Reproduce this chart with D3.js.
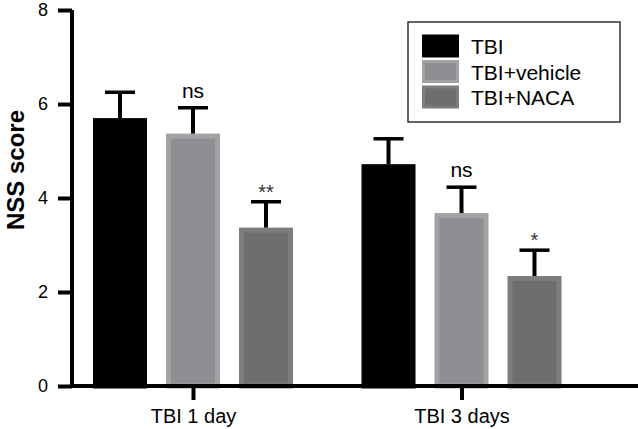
<!DOCTYPE html>
<html><head><meta charset="utf-8">
<script src="https://cdn.jsdelivr.net/npm/d3@7"></script>
<style>body{margin:0;background:#fff}svg{display:block}text{font-family:"Liberation Sans",Arial,sans-serif}</style>
</head><body><svg id="c" width="638" height="429"></svg>
<script>
const categories = ["TBI 1 day", "TBI 3 days"];
const series = ["TBI", "TBI+vehicle", "TBI+NACA"];
const means = {
  "TBI": [5.70, 4.72],
  "TBI+vehicle": [5.37, 3.68],
  "TBI+NACA": [3.37, 2.34]
};
const sems = {
  "TBI": [0.55, 0.54],
  "TBI+vehicle": [0.55, 0.55],
  "TBI+NACA": [0.55, 0.55]
};
const marks = {
  "TBI": ["", ""],
  "TBI+vehicle": ["ns", "ns"],
  "TBI+NACA": ["**", "*"]
};
const yTicks = [0, 2, 4, 6, 8];

const fills = {"TBI": "#000000", "TBI+vehicle": "#8f8f93", "TBI+NACA": "#6e6e6e"};
const strokes = {"TBI": "#000000", "TBI+vehicle": "#a2a2a5", "TBI+NACA": "#7d7d7d"};

const svg = d3.select("#c");
const y = d3.scaleLinear().domain([0, 8]).range([386, 10]);
const x0 = d3.scalePoint().domain(categories).range([193, 461.5]);
const x1 = d3.scaleBand().domain(series).range([-100, 100]).paddingInner(0.26);
const bw = x1.bandwidth();

const data = [];
categories.forEach((c, i) => series.forEach(s => data.push({c, s, v: means[s][i], e: sems[s][i], m: marks[s][i]})));

const g = svg.append("g");
const sw = 5;
g.selectAll("rect.bar").data(data).join("rect")
  .attr("class", "bar")
  .attr("x", d => x0(d.c) + x1(d.s) + sw / 2)
  .attr("y", d => y(d.v) + sw / 2)
  .attr("width", bw - sw)
  .attr("height", d => y(0) - y(d.v) - sw / 2)
  .attr("fill", d => fills[d.s])
  .attr("stroke", d => strokes[d.s])
  .attr("stroke-width", sw);

// error bars
const cx = d => x0(d.c) + x1(d.s) + bw / 2;
g.selectAll("line.stem").data(data).join("line")
  .attr("x1", cx).attr("x2", cx)
  .attr("y1", d => y(d.v)).attr("y2", d => y(d.v + d.e))
  .attr("stroke", "#000").attr("stroke-width", 4);
g.selectAll("line.cap").data(data).join("line")
  .attr("x1", d => cx(d) - 15).attr("x2", d => cx(d) + 15)
  .attr("y1", d => y(d.v + d.e)).attr("y2", d => y(d.v + d.e))
  .attr("stroke", "#000").attr("stroke-width", 3.5);

g.selectAll("text.sig").data(data.filter(d => d.m)).join("text")
  .attr("x", cx)
  .attr("y", d => y(d.v + d.e) - (d.m === "ns" ? 10 : 3))
  .attr("text-anchor", "middle")
  .attr("font-size", d => d.m === "ns" ? 21 : 20)
  .attr("fill", d => d.m === "ns" ? "#000" : "#333")
  .text(d => d.m);

// y axis
const yAxis = svg.append("g").attr("transform", "translate(72,0)")
  .call(d3.axisLeft(y).tickValues(yTicks).tickFormat(d3.format("d")).tickSize(14).tickPadding(10));
yAxis.select(".domain").attr("d", "M0," + y(8) + "V" + (y(0) + 2)).attr("stroke", "#000").attr("stroke-width", 4);
yAxis.selectAll(".tick line").attr("stroke", "#000").attr("stroke-width", 4);
yAxis.selectAll(".tick text").attr("font-size", 18).attr("fill", "#000").attr("font-family", "Liberation Sans, Arial, sans-serif");

// x axis
const xAxis = svg.append("g").attr("transform", "translate(0,386)")
  .call(d3.axisBottom(x0).tickSize(14).tickPadding(10));
xAxis.select(".domain").attr("d", "M70,0H638").attr("stroke", "#000").attr("stroke-width", 4);
xAxis.selectAll(".tick line").attr("stroke", "#000").attr("stroke-width", 4);
xAxis.selectAll(".tick text").attr("font-size", 20).attr("fill", "#000").attr("dy", "0").attr("y", 37)
  .attr("font-family", "Liberation Sans, Arial, sans-serif");

// y label
svg.append("text")
  .attr("transform", "translate(24,170) rotate(-90)")
  .attr("text-anchor", "middle")
  .attr("font-size", 24).attr("font-weight", "bold")
  .text("NSS score");

// legend
const lg = svg.append("g");
lg.append("rect").attr("x", 408).attr("y", 22).attr("width", 212).attr("height", 100)
  .attr("fill", "#fff").attr("stroke", "#333").attr("stroke-width", 1.5);
const ly = d3.scalePoint().domain(series).range([46, 97]);
lg.selectAll("rect.sw").data(series).join("rect")
  .attr("x", 423.5).attr("y", d => ly(d) - 10)
  .attr("width", 34).attr("height", 20)
  .attr("fill", d => fills[d]).attr("stroke", d => strokes[d]).attr("stroke-width", 3);
lg.selectAll("text.lt").data(series).join("text")
  .attr("x", 471).attr("y", d => ly(d) + 8)
  .attr("font-size", 21).text(d => d);
</script></body></html>
